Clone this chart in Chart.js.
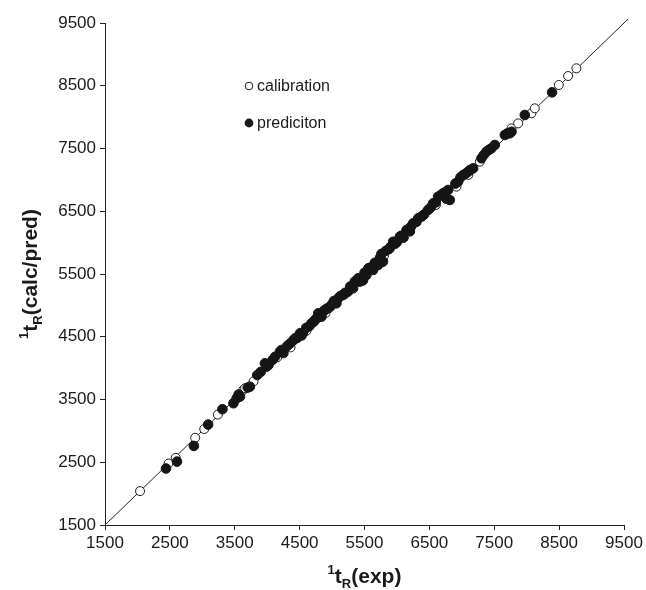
<!DOCTYPE html>
<html>
<head>
<meta charset="utf-8">
<script src="https://cdn.jsdelivr.net/npm/chart.js@4.4.0/dist/chart.umd.min.js"></script>
<style>
  html, body { margin: 0; padding: 0; background: #fff; }
  #wrap { width: 646px; height: 590px; }
</style>
</head>
<body>
<div id="wrap"><canvas id="grafico" width="646" height="590"></canvas></div>
<script>
// valores
var ejeTicks = [1500, 2500, 3500, 4500, 5500, 6500, 7500, 8500, 9500];
var lineaX = [1500, 9560];

// calibracion (circulos abiertos)
var calX = [2040, 2480, 2590, 2890, 3030, 3240, 3630, 3660, 3790, 4155, 4360, 4606, 4900, 5200, 5470, 5800, 6100, 6398, 6600, 6918, 7100, 7278, 7766, 7868, 8073, 8125, 8495, 8638, 8766];
var calY = [2040, 2480, 2570, 2890, 3030, 3260, 3650, 3680, 3790, 4173, 4330, 4597, 4880, 5180, 5390, 5790, 6080, 6424, 6600, 6892, 7080, 7290, 7820, 7900, 8061, 8140, 8512, 8655, 8778];

// prediccion (circulos llenos)
var predX = [2440, 2610, 2870, 3090, 3310, 3480, 3530, 3560, 3580, 3700, 3734, 3847, 3900, 3965, 3991, 4020, 4083, 4120, 4196, 4220, 4250,
             4309, 4350, 4400, 4428, 4460, 4470, 4505, 4530, 4550, 4600, 4650, 4683, 4720, 4735, 4770, 4786, 4837, 4860, 4890, 4920,
             4950, 4980, 5000, 5030, 5067, 5100, 5130, 5168, 5200, 5245, 5280, 5324, 5350, 5400, 5426, 5478, 5500, 5529, 5560, 5580,
             5632, 5660, 5709, 5740, 5760, 5785, 5830, 5880, 5900, 5942, 5970, 6000, 6045, 6070, 6100, 6148, 6170, 6200, 6220, 6249,
             6300, 6327, 6378, 6420, 6480, 6520, 6557, 6600, 6634, 6680, 6711, 6740, 6760, 6789, 6815, 6900, 6943, 6980, 7021, 7060,
             7098, 7130, 7175, 7303, 7340, 7380, 7420, 7457, 7509, 7663, 7700, 7740, 7766, 7971, 8391];
var predY = [2400, 2510, 2760, 3100, 3345, 3440, 3520, 3580, 3545, 3690, 3704, 3890, 3940, 4077, 4023, 4050, 4130, 4180, 4262, 4290, 4240,
             4353, 4390, 4440, 4475, 4480, 4500, 4555, 4520, 4560, 4640, 4670, 4714, 4740, 4767, 4800, 4873, 4820, 4900, 4926, 4950,
             4960, 4990, 5020, 5070, 5033, 5120, 5150, 5165, 5200, 5218, 5300, 5272, 5380, 5430, 5377, 5404, 5520, 5484, 5590, 5600,
             5564, 5680, 5643, 5760, 5820, 5696, 5870, 5900, 5930, 6015, 5980, 6010, 6095, 6110, 6080, 6201, 6210, 6180, 6260, 6308,
             6330, 6388, 6414, 6450, 6520, 6560, 6627, 6640, 6732, 6760, 6786, 6800, 6700, 6839, 6679, 6940, 6971, 7040, 7078, 7100,
             7131, 7160, 7184, 7344, 7400, 7449, 7480, 7503, 7556, 7715, 7740, 7742, 7768, 8034, 8395];

function puntos(xs, ys) {
    var r = [];
    for (var i = 0; i < xs.length; i++) r.push({ x: xs[i], y: ys[i] });
    return r;
}

var fuente = '"Liberation Sans", Arial, sans-serif';

// titulos de ejes con superindice y subindice, y la leyenda dentro del grafico
var extras = {
    id: 'extras',
    afterDraw: function(chart) {
        var ctx = chart.ctx;
        var area = chart.chartArea;

        function titulo(x, y, resto) {
            var partes = [
                { t: '1', f: 'bold 13px ' + fuente, dy: -9 },
                { t: 't', f: 'bold 21px ' + fuente, dy: 0 },
                { t: 'R', f: 'bold 13px ' + fuente, dy: 5 },
                { t: resto, f: 'bold 21px ' + fuente, dy: 0 }
            ];
            var ancho = 0;
            partes.forEach(function(p) { ctx.font = p.f; ancho += ctx.measureText(p.t).width; });
            var cx = x - ancho / 2;
            ctx.fillStyle = '#1a1a1a';
            ctx.textBaseline = 'alphabetic';
            ctx.textAlign = 'left';
            partes.forEach(function(p) {
                ctx.font = p.f;
                ctx.fillText(p.t, cx, y + p.dy);
                cx += ctx.measureText(p.t).width;
            });
        }

        ctx.save();
        titulo((area.left + area.right) / 2, 583, '(exp)');
        ctx.restore();

        ctx.save();
        ctx.translate(37, (area.top + area.bottom) / 2);
        ctx.rotate(-Math.PI / 2);
        titulo(0, 0, '(calc/pred)');
        ctx.restore();

        // leyenda
        ctx.save();
        ctx.lineWidth = 1;
        ctx.strokeStyle = '#1a1a1a';
        ctx.fillStyle = '#fff';
        ctx.beginPath();
        ctx.arc(249, 86, 3.8, 0, Math.PI * 2);
        ctx.fill();
        ctx.stroke();
        ctx.fillStyle = '#1a1a1a';
        ctx.beginPath();
        ctx.arc(249, 123, 4.4, 0, Math.PI * 2);
        ctx.fill();
        ctx.font = '16px ' + fuente;
        ctx.textBaseline = 'middle';
        ctx.textAlign = 'left';
        ctx.fillText('calibration', 257, 87);
        ctx.fillText('prediciton', 257, 124);
        ctx.restore();
    }
};

var ctx = document.getElementById('grafico').getContext('2d');
new Chart(ctx, {
    type: 'scatter',
    data: {
        datasets: [
            {
                label: 'prediciton',
                data: puntos(predX, predY),
                pointRadius: 4.8,
                pointBackgroundColor: '#151515',
                pointBorderColor: '#151515',
                pointBorderWidth: 1,
                order: 0
            },
            {
                label: 'calibration',
                data: puntos(calX, calY),
                pointRadius: 4.5,
                pointBackgroundColor: '#ffffff',
                pointBorderColor: '#1a1a1a',
                pointBorderWidth: 1,
                order: 1
            },
            {
                type: 'line',
                label: 'y=x',
                data: puntos(lineaX, lineaX),
                borderColor: '#222',
                borderWidth: 1,
                pointRadius: 0,
                clip: false,
                order: 2
            }
        ]
    },
    options: {
        responsive: false,
        animation: false,
        events: [],
        layout: { padding: { top: 23, right: 22, left: 0, bottom: 0 } },
        plugins: {
            legend: { display: false },
            tooltip: { enabled: false }
        },
        scales: {
            x: {
                type: 'linear',
                min: 1500,
                max: 9500,
                afterBuildTicks: function(s) { s.ticks = ejeTicks.map(function(v) { return { value: v }; }); },
                afterFit: function(s) { s.height = 65; },
                border: { display: true, color: '#222', width: 1 },
                grid: { drawOnChartArea: false, drawTicks: true, tickLength: 5, color: '#222' },
                ticks: {
                    color: '#1a1a1a',
                    font: { family: fuente, size: 17 },
                    padding: 3,
                    maxRotation: 0,
                    callback: function(v) { return String(v); }
                }
            },
            y: {
                type: 'linear',
                min: 1500,
                max: 9500,
                afterBuildTicks: function(s) { s.ticks = ejeTicks.map(function(v) { return { value: v }; }); },
                afterFit: function(s) { s.width = 105; },
                border: { display: true, color: '#222', width: 1 },
                grid: { drawOnChartArea: false, drawTicks: true, tickLength: 5, color: '#222' },
                ticks: {
                    color: '#1a1a1a',
                    font: { family: fuente, size: 17 },
                    padding: 4,
                    callback: function(v) { return String(v); }
                }
            }
        }
    },
    plugins: [extras]
});
</script>
</body>
</html>
